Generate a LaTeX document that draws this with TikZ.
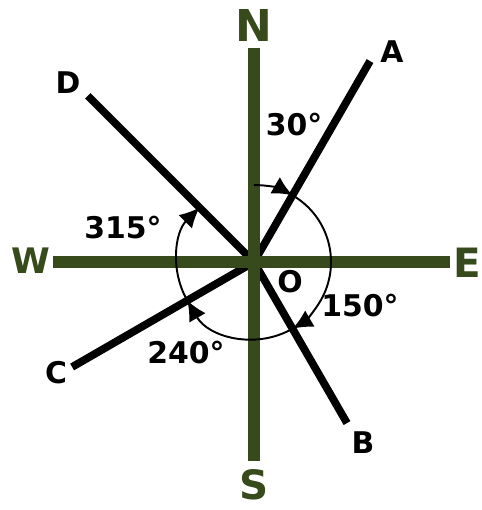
\documentclass[tikz,border=0pt]{standalone}
\usepackage{fontspec}
\setmainfont{DejaVu Sans}
\usetikzlibrary{arrows.meta,positioning}
\definecolor{compassgreen}{HTML}{364A1C}
\tikzset{
  axisline/.style={draw=compassgreen, line width=6.5pt},
  ray/.style={draw=black, line width=4.4pt},
  turn/.style={draw=black, line width=1.1pt, -{Latex[length=4mm,width=3.8mm]}},
  dirlbl/.style={text=compassgreen, font=\fontsize{25}{30}\selectfont\bfseries, inner sep=0pt},
  ptlbl/.style={font=\fontsize{17}{20}\selectfont\bfseries, inner sep=0pt},
  anglbl/.style={font=\fontsize{17}{20}\selectfont\bfseries, inner sep=0pt}
}

\begin{document}
\begin{tikzpicture}[x=0.02cm, y=0.02cm]
  \useasboundingbox (-254,-248) rectangle (228,262);
  \coordinate (O) at (0,0);

  % compass ends
  \coordinate (n) at (0,214);
  \coordinate (s) at (0,-199);
  \coordinate (w) at (-201,0);
  \coordinate (e) at (196,0);

  % ray ends
  \coordinate (a) at (60:232);
  \coordinate (b) at (-60:186);
  \coordinate (c) at (210:210);
  \coordinate (d) at (135:235);

  \node[dirlbl] (N) at (0,237) {N};
  \node[dirlbl, font=\fontsize{23}{27}\selectfont\bfseries] (S) at (0,-223) {S};
  \node[dirlbl, font=\fontsize{20}{24}\selectfont\bfseries] (W) at (-223,1) {W};
  \node[dirlbl, font=\fontsize{23}{27}\selectfont\bfseries] (E) at (213,-1) {E};

  \node[ptlbl] (A) at (138,210) {A};
  \node[ptlbl] (B) at (109,-181) {B};
  \node[ptlbl] (C) at (-198,-111) {C};
  \node[ptlbl] (D) at (-186,179) {D};
  \node[ptlbl] (o) at (36,-20) {O};

  \node[anglbl] (t30) at (40,137) {30°};
  \node[anglbl] (t150) at (106,-44) {150°};
  \node[anglbl] (t240) at (-68,-91) {240°};
  \node[anglbl] (t315) at (-131,34) {315°};

  \draw[ray] (O) -- (a);
  \draw[ray] (O) -- (b);
  \draw[ray] (O) -- (c);
  \draw[ray] (O) -- (d);

  \draw[axisline] (w) -- (e);
  \draw[axisline] (s) -- (n);

  % bearings, clockwise from north
  \draw[turn] ([shift={(90:77)}]O) arc[start angle=90, end angle=60, radius=77];
  \draw[turn] ([shift={(60:77)}]O) arc[start angle=60, end angle=-60, radius=77];
  \draw[turn] ([shift={(-60:77)}]O) arc[start angle=-60, end angle=-150, radius=77];
  \draw[turn] ([shift={(-150:77)}]O) arc[start angle=-150, end angle=-225, radius=77];
\end{tikzpicture}
\end{document}
